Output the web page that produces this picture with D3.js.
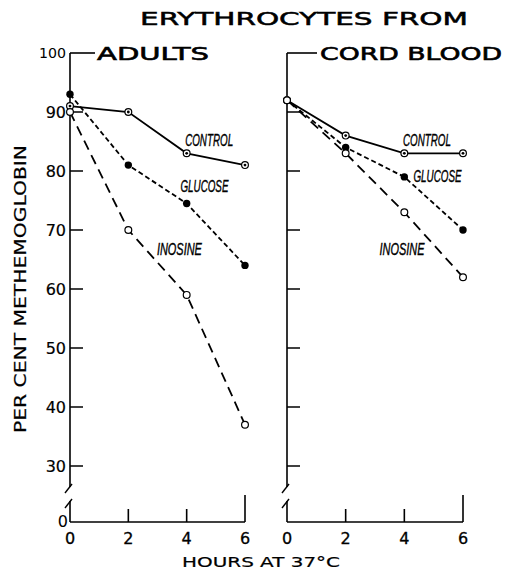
<!DOCTYPE html>
<html><head><meta charset="utf-8">
<script src="https://cdn.jsdelivr.net/npm/d3@7"></script>
<style>body{margin:0;background:#fff}svg{display:block}</style>
</head><body>
<svg id="c" width="512" height="570"></svg>
<script>
const hours = [0, 2, 4, 6];
const yTicks = [30, 40, 50, 60, 70, 80, 90];
const xTicks = [0, 2, 4, 6];
const adultsControl = [91, 90, 83, 81];
const adultsGlucose = [93, 81, 74.5, 64];
const adultsInosine = [90, 70, 59, 37];
const cordControl = [92, 86, 83, 83];
const cordGlucose = [92, 84, 79, 70];
const cordInosine = [92, 83, 73, 62];
const seriesNames = ["CONTROL", "GLUCOSE", "INOSINE"];
const adultsLabelPos = [[4.77, 85.3], [4.61, 77.5], [3.75, 66.9]];
const cordLabelPos = [[4.77, 85.3], [5.13, 79.3], [3.92, 66.9]];

const svg = d3.select("#c");
const y = d3.scaleLinear().domain([30, 100]).range([466, 53]);
const baseY = y(30) + 56;

const styles = {
  CONTROL: {dash: null, marker: "dot"},
  GLUCOSE: {dash: "5,3", marker: "filled"},
  INOSINE: {dash: "10,6", marker: "open"}
};

svg.append("text").attr("x", 140).attr("y", 25).attr("textLength", 328)
  .attr("lengthAdjust", "spacingAndGlyphs")
  .style("font-family", "DejaVu Sans").style("font-size", "18px")
  .attr("stroke", "#000").attr("stroke-width", 0.5)
  .text("ERYTHROCYTES FROM");

function panel(x0, x1, title, titleW, series, labelPos, showLabels) {
  const x = d3.scaleLinear().domain([0, 6]).range([x0, x1]);
  const g = svg.append("g");
  const ax = x(0);
  g.append("line").attr("x1", ax).attr("x2", ax).attr("y1", y(100)).attr("y2", y(30) + 21)
    .attr("stroke", "#000").attr("stroke-width", 1.6);
  g.append("line").attr("x1", ax).attr("x2", ax).attr("y1", baseY - 21).attr("y2", baseY)
    .attr("stroke", "#000").attr("stroke-width", 1.6);
  [y(30) + 22, baseY - 19].forEach(cy => {
    g.append("line").attr("x1", ax - 5).attr("y1", cy + 5).attr("x2", ax + 2).attr("y2", cy - 4)
      .attr("stroke", "#000").attr("stroke-width", 1.4);
  });
  g.append("line").attr("x1", ax).attr("x2", ax + (showLabels ? 25 : 30)).attr("y1", y(100)).attr("y2", y(100))
    .attr("stroke", "#000").attr("stroke-width", 1.6);
  g.append("text").attr("x", ax + (showLabels ? 27 : 33)).attr("y", 60).attr("textLength", titleW)
    .attr("lengthAdjust", "spacingAndGlyphs")
    .style("font-family", "DejaVu Sans").style("font-size", "18px")
    .attr("stroke", "#000").attr("stroke-width", 0.6).text(title);
  yTicks.forEach(t => {
    g.append("line").attr("x1", ax).attr("x2", ax + 13).attr("y1", y(t)).attr("y2", y(t))
      .attr("stroke", "#000").attr("stroke-width", 1.5);
    if (showLabels) {
      g.append("text").attr("x", ax - 4).attr("y", y(t) + 5.5).attr("text-anchor", "end")
        .style("font-family", "DejaVu Sans").style("font-size", "16px")
        .attr("stroke", "#000").attr("stroke-width", 0.2).text(t);
    }
  });
  if (showLabels) {
    g.append("text").attr("x", ax - 4).attr("y", y(100) + 5).attr("text-anchor", "end")
      .style("font-family", "DejaVu Sans").style("font-size", "14px").attr("textLength", 27)
      .attr("lengthAdjust", "spacingAndGlyphs").text("100");
    g.append("text").attr("x", ax - 2).attr("y", baseY + 5).attr("text-anchor", "end")
      .style("font-family", "DejaVu Sans").style("font-size", "16px").text("0");
  }
  g.append("line").attr("x1", ax).attr("x2", x(6)).attr("y1", baseY).attr("y2", baseY)
    .attr("stroke", "#000").attr("stroke-width", 1.6);
  xTicks.forEach(t => {
    if (t > 0) {
      g.append("line").attr("x1", x(t)).attr("x2", x(t)).attr("y1", baseY).attr("y2", baseY - (t === 6 ? 27 : 13))
        .attr("stroke", "#000").attr("stroke-width", 1.6);
    }
    g.append("text").attr("x", x(t)).attr("y", baseY + 22).attr("text-anchor", "middle")
      .style("font-family", "DejaVu Sans").style("font-size", "16px")
      .attr("stroke", "#000").attr("stroke-width", 0.3).text(t);
  });
  const line = d3.line().x((d, i) => x(hours[i])).y(d => y(d));
  series.forEach((vals, si) => {
    const st = styles[seriesNames[si]];
    g.append("path").attr("d", line(vals)).attr("fill", "none").attr("stroke", "#000")
      .attr("stroke-width", 1.8).attr("stroke-dasharray", st.dash);
  });
  series.forEach((vals, si) => {
    const st = styles[seriesNames[si]];
    vals.forEach((v, i) => {
      const cx = x(hours[i]), cy = y(v);
      if (st.marker === "filled") {
        g.append("circle").attr("cx", cx).attr("cy", cy).attr("r", 3.7).attr("fill", "#000");
      } else {
        g.append("circle").attr("cx", cx).attr("cy", cy).attr("r", 3.4).attr("fill", "#fff")
          .attr("stroke", "#000").attr("stroke-width", 1.2);
        if (st.marker === "dot") g.append("circle").attr("cx", cx).attr("cy", cy).attr("r", 1.4).attr("fill", "#000");
      }
    });
  });
  seriesNames.forEach((n, i) => {
    g.append("text").attr("x", x(labelPos[i][0])).attr("y", y(labelPos[i][1]) + 6.5)
      .attr("text-anchor", "middle").attr("textLength", n === "INOSINE" ? 45 : 48)
      .attr("lengthAdjust", "spacingAndGlyphs")
      .style("font-family", "Liberation Sans").style("font-style", "italic")
      .style("font-size", "17px").attr("stroke", "#000").attr("stroke-width", 0.4).text(n);
  });
}

panel(70, 245, "ADULTS", 112, [adultsControl, adultsGlucose, adultsInosine], adultsLabelPos, true);
panel(287, 463, "CORD BLOOD", 182, [cordControl, cordGlucose, cordInosine], cordLabelPos, false);

svg.append("text").attr("transform", "translate(26,289) rotate(-90)").attr("text-anchor", "middle")
  .attr("textLength", 288).attr("lengthAdjust", "spacingAndGlyphs")
  .style("font-family", "DejaVu Sans").style("font-size", "15px")
  .attr("stroke", "#000").attr("stroke-width", 0.2).text("PER CENT METHEMOGLOBIN");
svg.append("text").attr("x", 182).attr("y", 567).attr("textLength", 158)
  .attr("lengthAdjust", "spacingAndGlyphs")
  .style("font-family", "DejaVu Sans").style("font-size", "14px")
  .attr("stroke", "#000").attr("stroke-width", 0.2).text("HOURS AT 37°C");
</script>
</body></html>
